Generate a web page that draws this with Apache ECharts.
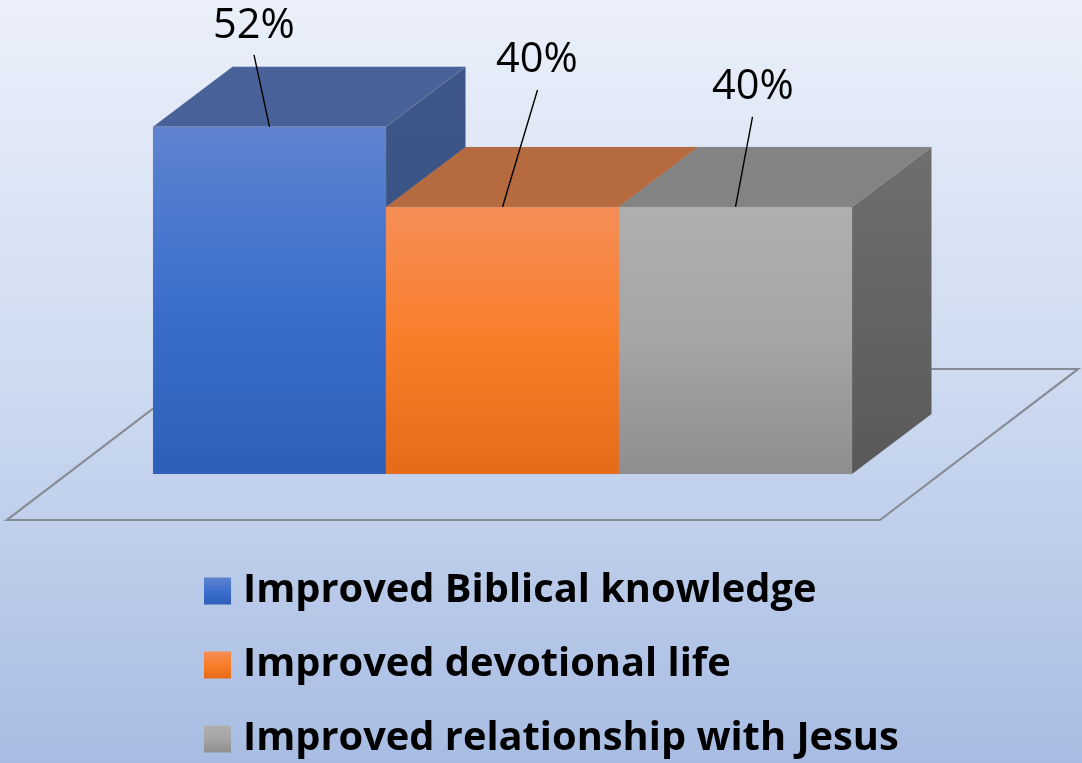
<!DOCTYPE html>
<html>
<head>
<meta charset="utf-8">
<style>html,body{margin:0;padding:0;background:#fff}#c{width:1082px;height:763px}</style>
<script src="https://cdn.jsdelivr.net/npm/echarts@6/dist/echarts.min.js"></script>
</head>
<body>
<div id="c"></div>
<script>
const categories = ['Improved Biblical knowledge', 'Improved devotional life', 'Improved relationship with Jesus'];
const values = [52, 40, 40];
const valueLabels = ['52%', '40%', '40%'];

// styling only
const depthX = 79.5, depthY = -60;
const faces = [
  { front: ['#5F83CF', '#3C6FCD', '#2D5FBA'], top: '#486299', side: ['#3F5788', '#304E82'] },
  { front: ['#F58E57', '#F97E2A', '#E56B18'], top: '#B56A3F', side: ['#9A5A33', '#8A4E2A'] },
  { front: ['#AFAFAF', '#A5A5A5', '#8E8E8E'], top: '#838383', side: ['#6F6F6F', '#595959'] }
];
const labelShift = [[-15.5, -101, -15.5, -72], [34.5, -147, 35, -117], [17.5, -120, 17, -90]];

function vGrad(c) {
  return { type: 'linear', x: 0, y: 0, x2: 0, y2: 1, colorStops: c.length === 3
    ? [{ offset: 0, color: c[0] }, { offset: 0.5, color: c[1] }, { offset: 1, color: c[2] }]
    : [{ offset: 0, color: c[0] }, { offset: 1, color: c[1] }] };
}

function barItem(i) {
  return function (params, api) {
    const p = api.coord([api.value(0), api.value(1)]);
    const base = api.coord([api.value(0), 0]);
    const w = api.size([1, 0])[0];
    const l = p[0] - w / 2, r = p[0] + w / 2, t = p[1], b = base[1];
    const f = faces[i], s = labelShift[i];
    const edge = 'rgba(150,160,180,0.25)';
    return {
      type: 'group',
      children: [
        { type: 'polygon', shape: { points: [[l, t], [r, t], [r + depthX, t + depthY], [l + depthX, t + depthY]] },
          style: { fill: f.top, stroke: edge, lineWidth: 0.6 } },
        { type: 'polygon', shape: { points: [[r, t], [r + depthX, t + depthY], [r + depthX, b + depthY], [r, b]] },
          style: { fill: vGrad(f.side), stroke: edge, lineWidth: 0.6 } },
        { type: 'rect', shape: { x: l, y: t, width: w, height: b - t },
          style: { fill: vGrad(f.front), stroke: edge, lineWidth: 0.6 } },
        { type: 'line', shape: { x1: p[0] + s[2], y1: t + s[3], x2: p[0], y2: t },
          style: { stroke: '#000', lineWidth: 1.4 } },
        { type: 'text', x: p[0] + s[0], y: t + s[1],
          style: { text: valueLabels[i], font: '41.5px "Open Sans"', fill: '#000', align: 'center', verticalAlign: 'middle' } }
      ]
    };
  };
}

function floorItem(params, api) {
  const n = categories.length;
  const a = api.coord([0, 0]), z = api.coord([n - 1, 0]);
  const w = api.size([1, 0])[0];
  const l = a[0] - w / 2 - 146, r = z[0] + w / 2 + 28, y = a[1] + 46;
  return {
    type: 'polygon',
    shape: { points: [[l, y], [r, y], [r + 198, y - 151], [l + 198, y - 151]] },
    style: { fill: 'rgba(0,0,0,0)', stroke: '#868B93', lineWidth: 2.2 }
  };
}

const series = [{
  name: 'floor', type: 'custom', z: 1, silent: true, coordinateSystem: 'cartesian2d',
  renderItem: floorItem, data: [[0, 0]], encode: { x: 0, y: 1 }, clip: false
}];
categories.forEach(function (name, i) {
  series.push({
    name: name, type: 'custom', z: 2 + i, coordinateSystem: 'cartesian2d',
    renderItem: barItem(i), data: [[i, values[i]]], encode: { x: 0, y: 1 }, clip: false,
    itemStyle: { color: vGrad([faces[i].front[0], faces[i].front[1], faces[i].front[2]]) }
  });
});

const chart = echarts.init(document.getElementById('c'), null, { renderer: 'canvas', width: 1082, height: 763 });
chart.setOption({
  animation: false,
  backgroundColor: { type: 'linear', x: 0, y: 0, x2: 0, y2: 1, colorStops: [
    { offset: 0, color: '#EBF0FA' }, { offset: 0.5, color: '#CDDAF0' }, { offset: 1, color: '#A8BCE3' }] },
  grid: { left: 153, width: 699, top: 0, height: 474 },
  xAxis: { type: 'category', data: categories, show: false },
  yAxis: { type: 'value', min: 0, max: 71, show: false },
  legend: {
    data: categories, orient: 'vertical', left: 204, top: 571, padding: 0,
    itemWidth: 27, itemHeight: 27, itemGap: 34, icon: 'rect', selectedMode: false,
    textStyle: { fontFamily: '"Open Sans"', fontWeight: 'bold', fontSize: 39.8, color: '#000', lineHeight: 40, padding: [0, 0, 0, 7] }
  },
  series: series
});
</script>
</body>
</html>
